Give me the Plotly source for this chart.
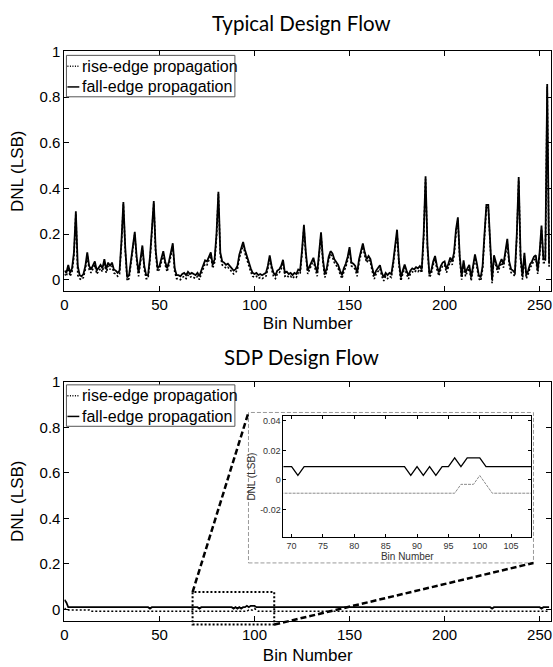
import numpy as np
import plotly.graph_objects as go

W, H = 553, 667

# DNL per bin, typical design flow
typ_fall = [
    0.04, 0.03, 0.065, 0.03, 0.05, 0.12, 0.30, 0.06, 0.02, 0.015,
    0.025, 0.06, 0.12, 0.06, 0.045, 0.065, 0.08, 0.04, 0.05, 0.065,
    0.05, 0.09, 0.045, 0.075, 0.06, 0.075, 0.045, 0.04, 0.03, 0.04,
    0.17, 0.34, 0.14, 0.01, 0.02, 0.08, 0.15, 0.21, 0.10, 0.03,
    0.09, 0.15, 0.06, 0.02, 0.02, 0.10, 0.22, 0.345, 0.13, 0.05,
    0.06, 0.09, 0.125, 0.08, 0.05, 0.08, 0.12, 0.16, 0.05, 0.02,
    0.02, 0.015, 0.025, 0.03, 0.02, 0.035, 0.025, 0.03, 0.025, 0.02,
    0.03, 0.015, 0.04, 0.06, 0.085, 0.08, 0.10, 0.12, 0.065, 0.09,
    0.20, 0.385, 0.12, 0.08, 0.075, 0.065, 0.07, 0.06, 0.05, 0.04,
    0.045, 0.06, 0.11, 0.14, 0.165, 0.13, 0.10, 0.075, 0.05, 0.03,
    0.025, 0.03, 0.02, 0.025, 0.02, 0.025, 0.03, 0.06, 0.107, 0.06,
    0.03, 0.02, 0.04, 0.045, 0.06, 0.087, 0.03, 0.035, 0.025, 0.03,
    0.02, 0.03, 0.025, 0.045, 0.04, 0.13, 0.24, 0.12, 0.04, 0.06,
    0.08, 0.096, 0.06, 0.032, 0.12, 0.208, 0.09, 0.025, 0.05, 0.10,
    0.125, 0.115, 0.09, 0.075, 0.065, 0.04, 0.02, 0.05, 0.07, 0.10,
    0.143, 0.075, 0.07, 0.06, 0.03, 0.09, 0.125, 0.159, 0.12, 0.09,
    0.104, 0.09, 0.05, 0.018, 0.04, 0.05, 0.063, 0.03, 0.01, 0.03,
    0.02, 0.03, 0.025, 0.08, 0.15, 0.219, 0.08, 0.01, 0.04, 0.067,
    0.04, 0.018, 0.04, 0.05, 0.045, 0.055, 0.05, 0.06, 0.045, 0.20,
    0.453, 0.15, 0.025, 0.04, 0.08, 0.104, 0.06, 0.032, 0.06, 0.075,
    0.08, 0.046, 0.07, 0.097, 0.08, 0.12, 0.22, 0.273, 0.10, 0.015,
    0.085, 0.03, 0.05, 0.065, 0.01, 0.07, 0.111, 0.07, 0.02, 0.01,
    0.06, 0.20, 0.328, 0.328, 0.15, 0.0, 0.107, 0.07, 0.046, 0.07,
    0.09, 0.068, 0.132, 0.179, 0.08, 0.046, 0.04, 0.03, 0.20, 0.45,
    0.10, 0.015, 0.118, 0.02, 0.04, 0.068, 0.08, 0.10, 0.107, 0.04,
    0.12, 0.237, 0.09, 0.09, 0.857, 0.07,
]
typ_rise = [
    0.025, 0.015, 0.05, 0.015, 0.035, 0.10, 0.29, 0.02, 0.005, 0.0,
    0.01, 0.045, 0.105, 0.045, 0.03, 0.05, 0.065, 0.025, 0.035, 0.05,
    0.035, 0.075, 0.03, 0.06, 0.045, 0.06, 0.03, 0.025, 0.015, 0.025,
    0.155, 0.33, 0.125, -0.005, 0.005, 0.065, 0.135, 0.20, 0.085, 0.015,
    0.075, 0.14, 0.045, 0.005, 0.005, 0.085, 0.205, 0.335, 0.115, 0.035,
    0.045, 0.075, 0.11, 0.065, 0.035, 0.065, 0.105, 0.145, 0.035, 0.005,
    0.005, 0.0, 0.01, 0.015, 0.005, 0.02, 0.01, 0.015, 0.01, 0.005,
    0.015, 0.0, 0.025, 0.045, 0.07, 0.065, 0.085, 0.105, 0.05, 0.075,
    0.185, 0.375, 0.105, 0.065, 0.06, 0.05, 0.055, 0.045, 0.035, 0.025,
    0.03, 0.045, 0.095, 0.125, 0.15, 0.115, 0.085, 0.06, 0.035, 0.015,
    0.01, 0.015, 0.005, 0.01, 0.005, 0.01, 0.015, 0.045, 0.095, 0.045,
    0.015, 0.005, 0.025, 0.03, 0.045, 0.075, 0.015, 0.02, 0.01, 0.015,
    0.005, 0.015, 0.01, 0.03, 0.025, 0.115, 0.23, 0.105, 0.025, 0.045,
    0.065, 0.085, 0.045, 0.015, 0.105, 0.195, 0.075, 0.01, 0.035, 0.085,
    0.11, 0.10, 0.075, 0.06, 0.05, 0.025, 0.005, 0.035, 0.055, 0.085,
    0.13, 0.06, 0.055, 0.045, 0.015, 0.075, 0.11, 0.145, 0.105, 0.075,
    0.09, 0.075, 0.035, 0.003, 0.025, 0.035, 0.048, 0.015, -0.005, 0.015,
    0.005, 0.015, 0.01, 0.065, 0.135, 0.205, 0.065, -0.005, 0.025, 0.052,
    0.025, 0.003, 0.025, 0.035, 0.03, 0.04, 0.035, 0.045, 0.03, 0.185,
    0.44, 0.135, 0.01, 0.025, 0.065, 0.09, 0.045, 0.017, 0.045, 0.06,
    0.065, 0.031, 0.055, 0.082, 0.065, 0.105, 0.205, 0.26, 0.085, 0.0,
    0.07, 0.015, 0.035, 0.05, -0.005, 0.055, 0.096, 0.055, 0.005, -0.005,
    0.045, 0.185, 0.315, 0.315, 0.135, -0.015, 0.092, 0.055, 0.031, 0.055,
    0.075, 0.053, 0.117, 0.164, 0.065, 0.031, 0.025, 0.015, 0.185, 0.435,
    0.085, 0.0, 0.103, 0.005, 0.025, 0.053, 0.065, 0.085, 0.092, 0.025,
    0.105, 0.222, 0.075, 0.075, 0.845, 0.055,
]

# DNL per bin, SDP design flow
sdp_fall = [
    0.042, 0.03, 0.009, 0.009, 0.009, 0.009, 0.009, 0.009, 0.009, 0.009, 0.009, 0.009, 0.009, 0.009, 0.009, 0.009,
    0.009, 0.009, 0.009, 0.009, 0.009, 0.009, 0.009, 0.009, 0.009, 0.009, 0.009, 0.009, 0.009, 0.009, 0.009, 0.009,
    0.009, 0.009, 0.009, 0.009, 0.009, 0.009, 0.009, 0.009, 0.009, 0.009, 0.009, 0.009, 0.009, 0.003, 0.009, 0.009,
    0.009, 0.009, 0.009, 0.009, 0.009, 0.009, 0.009, 0.009, 0.009, 0.009, 0.009, 0.009, 0.009, 0.009, 0.009, 0.009,
    0.009, 0.009, 0.009, 0.009, 0.009, 0.009, 0.009, 0.003, 0.009, 0.009, 0.009, 0.009, 0.009, 0.009, 0.009, 0.009,
    0.009, 0.009, 0.009, 0.009, 0.009, 0.009, 0.009, 0.009, 0.009, 0.003, 0.009, 0.003, 0.009, 0.003, 0.009, 0.009,
    0.015, 0.009, 0.015, 0.015, 0.015, 0.009, 0.009, 0.009, 0.009, 0.009, 0.009, 0.009, 0.009, 0.009, 0.009, 0.009,
    0.009, 0.009, 0.009, 0.009, 0.009, 0.009, 0.009, 0.009, 0.009, 0.009, 0.009, 0.009, 0.009, 0.009, 0.009, 0.009,
    0.009, 0.009, 0.009, 0.009, 0.009, 0.009, 0.009, 0.009, 0.009, 0.009, 0.009, 0.009, 0.009, 0.009, 0.009, 0.009,
    0.009, 0.009, 0.009, 0.009, 0.009, 0.009, 0.009, 0.009, 0.009, 0.009, 0.009, 0.009, 0.009, 0.009, 0.009, 0.009,
    0.009, 0.009, 0.009, 0.009, 0.009, 0.009, 0.009, 0.009, 0.009, 0.009, 0.009, 0.009, 0.009, 0.009, 0.009, 0.009,
    0.009, 0.009, 0.009, 0.009, 0.009, 0.009, 0.009, 0.009, 0.009, 0.009, 0.009, 0.009, 0.009, 0.009, 0.009, 0.009,
    0.009, 0.009, 0.009, 0.009, 0.009, 0.009, 0.009, 0.009, 0.009, 0.009, 0.009, 0.009, 0.009, 0.009, 0.009, 0.009,
    0.009, 0.009, 0.009, 0.009, 0.009, 0.009, 0.009, 0.009, 0.009, 0.009, 0.009, 0.009, 0.009, 0.009, 0.009, 0.009,
    0.009, 0.003, 0.009, 0.009, 0.009, 0.009, 0.009, 0.009, 0.009, 0.009, 0.009, 0.009, 0.009, 0.009, 0.009, 0.009,
    0.009, 0.009, 0.009, 0.009, 0.009, 0.009, 0.009, 0.009, 0.009, 0.009, 0.009, 0.003, 0.009, 0.009, 0.009, 0.009,
]
sdp_rise = [
    0.005, -0.003, -0.003, -0.003, -0.003, -0.003, -0.003, -0.003, -0.003, -0.003, -0.003, -0.003, 0.0, -0.003, -0.009, -0.009,
    -0.009, -0.009, -0.009, -0.009, -0.009, -0.009, -0.009, -0.009, -0.009, -0.009, -0.009, -0.009, -0.009, -0.009, -0.009, -0.009,
    -0.009, -0.009, -0.009, -0.009, -0.009, -0.009, -0.009, -0.009, -0.009, -0.009, -0.009, -0.009, -0.009, -0.009, -0.009, -0.009,
    -0.009, -0.009, -0.009, -0.009, -0.009, -0.009, -0.009, -0.009, -0.009, -0.009, -0.009, -0.009, -0.009, -0.009, -0.009, -0.009,
    -0.009, -0.009, -0.009, -0.009, -0.009, -0.009, -0.009, -0.009, -0.009, -0.009, -0.009, -0.009, -0.009, -0.009, -0.009, -0.009,
    -0.009, -0.009, -0.009, -0.009, -0.009, -0.009, -0.009, -0.009, -0.009, -0.009, -0.009, -0.009, -0.009, -0.009, -0.009, -0.009,
    -0.009, -0.003, -0.003, -0.003, 0.003, -0.003, -0.009, -0.009, -0.009, -0.009, -0.009, -0.009, -0.009, -0.009, -0.009, -0.009,
    -0.009, -0.009, -0.009, -0.009, -0.009, -0.009, -0.009, -0.009, -0.009, -0.009, -0.009, -0.009, -0.009, -0.009, -0.009, -0.009,
    -0.009, -0.009, -0.009, -0.009, -0.009, -0.009, -0.009, -0.009, -0.009, -0.009, -0.009, -0.009, -0.009, -0.009, -0.009, -0.009,
    -0.009, -0.009, -0.009, -0.009, -0.009, -0.009, -0.009, -0.009, -0.009, -0.009, -0.009, -0.009, -0.009, -0.009, -0.009, -0.009,
    -0.009, -0.009, -0.009, -0.009, -0.009, -0.009, -0.009, -0.009, -0.009, -0.009, -0.009, -0.009, -0.009, -0.009, -0.009, -0.009,
    -0.009, -0.009, -0.009, -0.009, -0.009, -0.009, -0.009, -0.009, -0.009, -0.009, -0.009, -0.009, -0.009, -0.009, -0.009, -0.009,
    -0.009, -0.009, -0.009, -0.009, -0.009, -0.009, -0.009, -0.009, -0.009, -0.009, -0.009, -0.009, -0.009, -0.009, -0.009, -0.009,
    -0.009, -0.009, -0.009, -0.009, -0.009, -0.009, -0.009, -0.009, -0.009, -0.009, -0.009, -0.009, -0.009, -0.009, -0.009, -0.009,
    -0.009, -0.009, -0.009, -0.009, -0.009, -0.009, -0.009, -0.009, -0.009, -0.009, -0.009, -0.009, -0.009, -0.009, -0.009, -0.009,
    -0.009, -0.009, -0.009, -0.009, -0.009, -0.009, -0.009, -0.009, -0.009, -0.009, -0.009, -0.009, -0.009, -0.009, -0.009, -0.009,
]

for arr in (typ_fall, typ_rise, sdp_fall, sdp_rise):
    assert len(arr) == 256, len(arr)

bins = np.arange(256)

x_ticks = [0, 50, 100, 150, 200, 250]
y_ticks = [0, 0.2, 0.4, 0.6, 0.8, 1]
y_ticktext = ["0", "0.2", "0.4", "0.6", "0.8", "1"]
inset_x_ticks = [70, 75, 80, 85, 90, 95, 100, 105]
inset_y_ticks = [-0.02, 0, 0.02, 0.04]
inset_y_ticktext = ["-0.02", "0", "0.02", "0.04"]

series_names = ["rise-edge propagation", "fall-edge propagation"]
titles = ["Typical Design Flow", "SDP Design Flow"]


def px(x):
    return x / W


def py(y):
    return 1 - y / H


FONT = "Liberation Sans, Arial, sans-serif"
DOTS = "2px,2px"

fig = go.Figure()

# main panels
for xa, ya, rise, fall in [("x", "y", typ_rise, typ_fall), ("x2", "y2", sdp_rise, sdp_fall)]:
    fig.add_trace(go.Scatter(x=bins, y=rise, xaxis=xa, yaxis=ya, mode="lines",
                             line=dict(color="black", width=1.6, dash=DOTS),
                             name=series_names[0], showlegend=False))
    fig.add_trace(go.Scatter(x=bins, y=fall, xaxis=xa, yaxis=ya, mode="lines",
                             line=dict(color="black", width=1.8),
                             name=series_names[1], showlegend=False))

# zoomed inset
fig.add_trace(go.Scatter(x=bins, y=sdp_rise, xaxis="x3", yaxis="y3", mode="lines",
                         line=dict(color="#8c8c8c", width=1, dash="3px,1px"), showlegend=False))
fig.add_trace(go.Scatter(x=bins, y=sdp_fall, xaxis="x3", yaxis="y3", mode="lines",
                         line=dict(color="black", width=1.3), showlegend=False))

ax_common = dict(showline=True, linecolor="black", linewidth=1, mirror="ticks",
                 ticks="inside", ticklen=5, tickcolor="black", showgrid=False,
                 zeroline=False, ticklabeloverflow="allow",
                 tickfont=dict(family=FONT, size=15, color="black"))
title_font = dict(family=FONT, size=17, color="black")
inset_font = dict(family=FONT, size=10, color="#333")

fig.update_layout(
    width=W, height=H,
    margin=dict(l=0, r=0, t=0, b=0),
    paper_bgcolor="white", plot_bgcolor="white",
    xaxis=dict(ax_common, domain=[px(61), px(552)], anchor="y", range=[0, 256],
               tickvals=x_ticks,
               title=dict(text="Bin Number", font=title_font, standoff=4)),
    yaxis=dict(ax_common, domain=[py(286), py(43)], anchor="x", range=[-0.05, 1],
               tickvals=y_ticks, ticktext=y_ticktext,
               title=dict(text="DNL (LSB)", font=title_font, standoff=11)),
    xaxis2=dict(ax_common, domain=[px(61), px(552)], anchor="y2", range=[0, 256],
                tickvals=x_ticks,
                title=dict(text="Bin Number", font=title_font, standoff=7)),
    yaxis2=dict(ax_common, domain=[py(620), py(378)], anchor="x2", range=[-0.05, 1],
                tickvals=y_ticks, ticktext=y_ticktext,
                title=dict(text="DNL (LSB)", font=title_font, standoff=11)),
    xaxis3=dict(ax_common, domain=[px(282), px(532)], anchor="y3", range=[68.7, 108.2],
                tickvals=inset_x_ticks, ticklen=3,
                tickfont=dict(family=FONT, size=9, color="#333"),
                title=dict(text="Bin Number", font=inset_font, standoff=2)),
    yaxis3=dict(ax_common, domain=[py(535), py(413)], anchor="x3", range=[-0.0385, 0.043],
                tickvals=inset_y_ticks, ticktext=inset_y_ticktext, ticklen=3,
                tickfont=dict(family=FONT, size=9, color="#333"),
                title=dict(text="DNL (LSB)", font=inset_font, standoff=2)),
)

shapes = []
annotations = []

# titles
for title, yc in zip(titles, [14, 353]):
    annotations.append(dict(text=title, x=px(300), y=py(yc), xref="paper", yref="paper",
                            showarrow=False, xanchor="center", yanchor="middle",
                            font=dict(family="Lato, Open Sans, sans-serif", size=20.5, color="black")))

# hand-drawn legends (short line samples like the original)
for top in [47, 381]:
    shapes.append(dict(type="rect", xref="paper", yref="paper",
                       x0=px(63), x1=px(233), y0=py(top), y1=py(top + 42),
                       line=dict(color="#555", width=1), fillcolor="white", layer="above"))
    for i, (name, dash) in enumerate(zip(series_names, ["1px,1.5px", "solid"])):
        yc = top + 11 + 21 * i
        shapes.append(dict(type="line", xref="paper", yref="paper",
                           x0=px(64), x1=px(76), y0=py(yc), y1=py(yc),
                           line=dict(color="black", width=1.5, dash=dash), layer="above"))
        annotations.append(dict(text=name, x=px(77), y=py(yc), xref="paper", yref="paper",
                                showarrow=False, xanchor="left", yanchor="middle",
                                font=dict(family=FONT, size=16, color="black")))

# zoom box, inset frame and connecting lines
shapes.append(dict(type="rect", xref="paper", yref="paper",
                   x0=px(190.3), x1=px(272.7), y0=py(624), y1=py(591),
                   line=dict(color="black", width=2, dash="2px,2px"), layer="above"))
shapes.append(dict(type="rect", xref="paper", yref="paper",
                   x0=px(246.7), x1=px(534.3), y0=py(561.5), y1=py(409),
                   line=dict(color="#9a9a9a", width=1, dash="4px,2px"), layer="above"))
shapes.append(dict(type="line", xref="paper", yref="paper",
                   x0=px(190.3), y0=py(591), x1=px(246.7), y1=py(409),
                   line=dict(color="black", width=2.5, dash="6px,3px"), layer="above"))
shapes.append(dict(type="line", xref="paper", yref="paper",
                   x0=px(272.7), y0=py(624), x1=px(534.3), y1=py(561.5),
                   line=dict(color="black", width=2.5, dash="6px,3px"), layer="above"))

fig.update_layout(shapes=shapes, annotations=annotations)

# the page's default body margin would push the fixed-size figure off the window
fig.write_html("out.html", config={"displayModeBar": False},
               post_script="document.body.style.margin='0';")
